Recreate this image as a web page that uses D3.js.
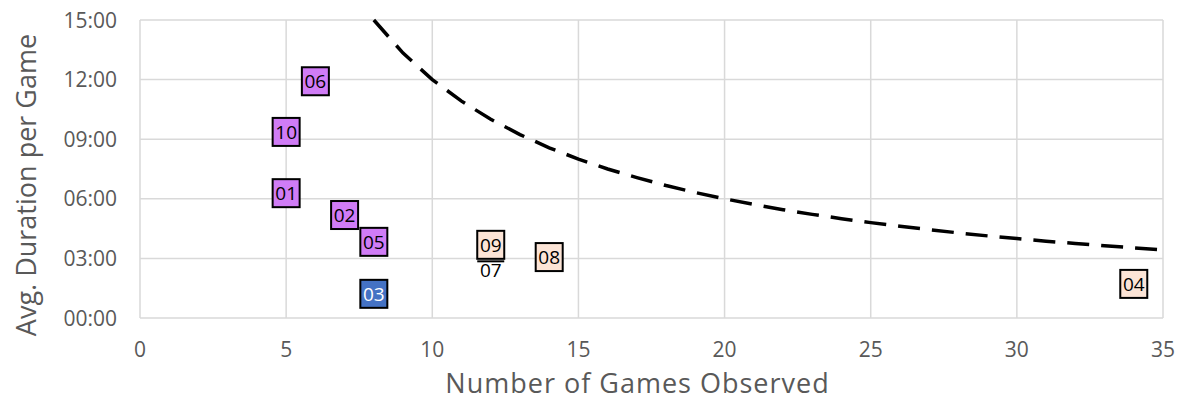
<!DOCTYPE html>
<html><head><meta charset="utf-8">
<script src="https://cdn.jsdelivr.net/npm/d3@7"></script>
<style>body{margin:0;background:#fff}svg{display:block}text{font-family:"Open Sans","Noto Sans",sans-serif}</style>
</head><body><svg id="c" width="1182" height="407"></svg>
<script>
// Data (durations in seconds)
const labels   = ["06","10","01","02","05","03","09","08","04","07"];
const games    = [6, 5, 5, 7, 8, 8, 12, 14, 34, 12];
const duration = [715, 562, 377, 311, 230, 73, 221, 184, 103, 145];
const groups   = ["p","p","p","p","p","b","o","o","o","t"];
const curveX   = [8,9,10,11,12,13,14,15,16,17,18,19,20,21,22,23,24,25,26,27,28,29,30,31,32,33,34,35];
const curveY   = [900,800,720,655,600,554,514,480,450,424,400,379,360,343,327,313,300,288,277,267,257,248,240,232,225,218,212,206];
const xTicks   = [0,5,10,15,20,25,30,35];
const yTicks   = [0,180,360,540,720,900];
const yTickLabels = ["00:00","03:00","06:00","09:00","12:00","15:00"];
const fills = {p:"#D07CF6", b:"#4472C4", o:"#FCE4D6", t:"none"};

const svg = d3.select("#c");
const L=140, R=1163, T=20, B=318;
const x = d3.scaleLinear().domain([0,35]).range([L,R]);
const y = d3.scaleLinear().domain([0,900]).range([B,T]);

// gridlines
svg.append("g").selectAll("line").data(xTicks).join("line")
  .attr("x1",d=>x(d)).attr("x2",d=>x(d)).attr("y1",T).attr("y2",B)
  .attr("stroke","#D9D9D9").attr("stroke-width",1.5);
svg.append("g").selectAll("line").data(yTicks).join("line")
  .attr("x1",L).attr("x2",R).attr("y1",d=>y(d)).attr("y2",d=>y(d))
  .attr("stroke","#D9D9D9").attr("stroke-width",1.5);

// tick labels
svg.append("g").selectAll("text").data(xTicks).join("text")
  .attr("x",d=>x(d)).attr("y",B+39).attr("text-anchor","middle")
  .attr("font-size",21).attr("fill","#595959").text(d=>d);
svg.append("g").selectAll("text").data(yTicks).join("text")
  .attr("x",L-23).attr("y",d=>y(d)+7.5).attr("text-anchor","end")
  .attr("font-size",21).attr("fill","#595959").text((d,i)=>yTickLabels[i]);

// axis titles
svg.append("text").attr("x",(L+R)/2-14).attr("y",393).attr("text-anchor","middle")
  .attr("font-size",27).attr("letter-spacing",1).attr("fill","#595959").text("Number of Games Observed");
svg.append("text").attr("transform","translate(36,"+((T+B)/2+16)+") rotate(-90)")
  .attr("text-anchor","middle").attr("font-size",27).attr("fill","#595959").text("Avg. Duration per Game");

// curve
const line = d3.line().x(d=>x(d[0])).y(d=>y(d[1]));
svg.append("path").datum(curveX.map((v,i)=>[v,curveY[i]])).attr("d",line)
  .attr("fill","none").attr("stroke","#000").attr("stroke-width",3.5)
  .attr("stroke-dasharray","22,12");

// points (labels with boxes)
const order = [9,0,1,2,3,4,5,6,7,8];
const g = svg.append("g");
order.forEach(i=>{
  const cx=x(games[i]), cy=y(duration[i]);
  const grp=groups[i];
  if(grp!=="t"){
    g.append("rect").attr("x",cx-13.5).attr("y",cy-14).attr("width",27).attr("height",28)
      .attr("fill",fills[grp]).attr("stroke","#000").attr("stroke-width",2);
  }
  g.append("text").attr("x",cx).attr("y",cy+7).attr("text-anchor","middle")
    .attr("font-size",19).attr("fill",grp==="b"?"#fff":"#000").text(labels[i]);
  if(labels[i]==="09"){
    g.append("line").attr("x1",cx-13.5).attr("x2",cx+13.5).attr("y1",cy+16.5).attr("y2",cy+16.5)
      .attr("stroke","#000").attr("stroke-width",2);
  }
});
</script></body></html>
